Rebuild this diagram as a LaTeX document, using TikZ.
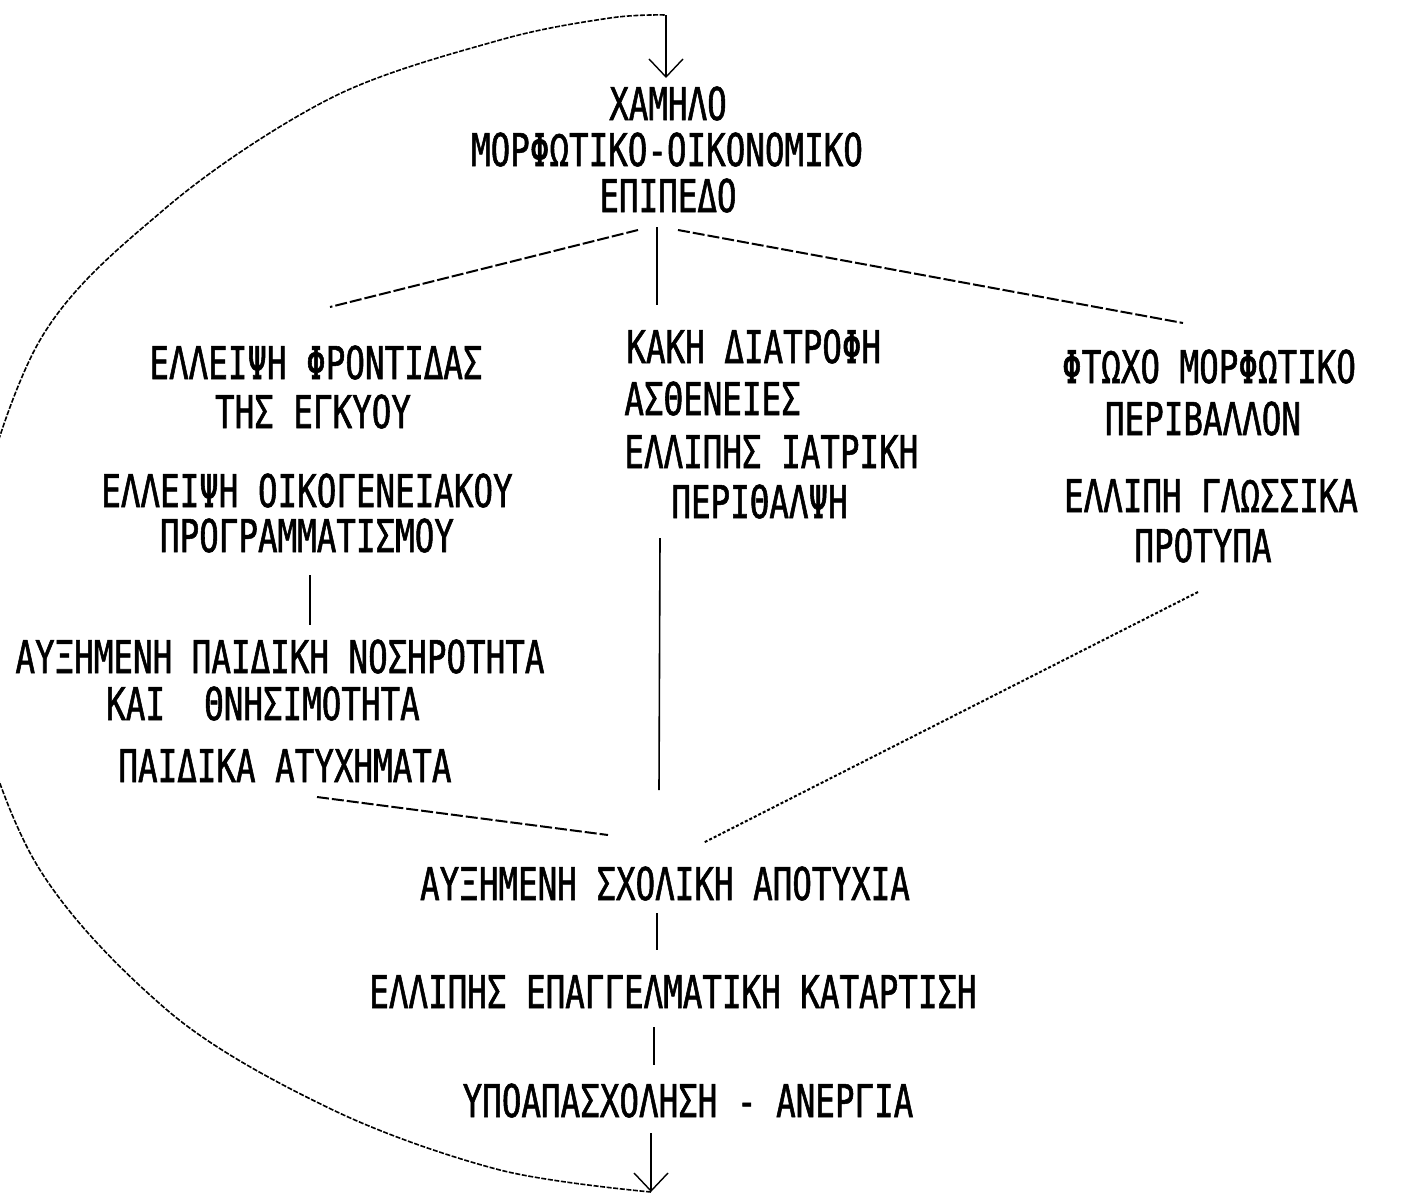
\documentclass[tikz,border=0pt]{standalone}
\usepackage{fontspec}
\newfontfamily\dotfont[FakeStretch=0.72,FakeBold=1.2]{DejaVu Sans Mono}
\usetikzlibrary{arrows.meta}
\begin{document}
\begin{tikzpicture}[x=0.5pt,y=-0.5pt,
  lbl/.style={inner sep=0pt, font=\dotfont\fontsize{22.6}{27}\selectfont, anchor=base},
  lbll/.style={lbl, anchor=base west},
  solidline/.style={line width=0.8pt},
  dashline/.style={line width=1pt, dash pattern=on 6pt off 1.5pt},
  dotline/.style={line width=1pt, dash pattern=on 1.5pt off 1pt},
  arcline/.style={line width=0.8pt, dash pattern=on 2.5pt off 0.8pt},
  tipline/.style={solidline, -{Straight Barb[length=9pt,width=17pt,line width=0.7pt]}}
]
\useasboundingbox (0,0) rectangle (1403,1194);

% top node
\node[lbl] (top1) at (668,120) {ΧΑΜΗΛΟ};
\node[lbl] (top2) at (667,166) {ΜΟΡΦΩΤΙΚΟ-ΟΙΚΟΝΟΜΙΚΟ};
\node[lbl] (top3) at (668,212) {ΕΠΙΠΕΔΟ};

% left column
\node[lbl] (l1a) at (316,379) {ΕΛΛΕΙΨΗ ΦΡΟΝΤΙΔΑΣ};
\node[lbl] (l1b) at (313,428) {ΤΗΣ ΕΓΚΥΟΥ};
\node[lbl] (l2a) at (307,507) {ΕΛΛΕΙΨΗ ΟΙΚΟΓΕΝΕΙΑΚΟΥ};
\node[lbl] (l2b) at (307,552) {ΠΡΟΓΡΑΜΜΑΤΙΣΜΟΥ};
\node[lbl] (l3a) at (280,673) {ΑΥΞΗΜΕΝΗ ΠΑΙΔΙΚΗ ΝΟΣΗΡΟΤΗΤΑ};
\node[lbl] (l3b) at (263,720) {ΚΑΙ\ \ ΘΝΗΣΙΜΟΤΗΤΑ};
\node[lbl] (l4) at (285,782) {ΠΑΙΔΙΚΑ ΑΤΥΧΗΜΑΤΑ};

% middle column
\node[lbll] (m1) at (626,363) {ΚΑΚΗ ΔΙΑΤΡΟΦΗ};
\node[lbll] (m2) at (624,415) {ΑΣΘΕΝΕΙΕΣ};
\node[lbll] (m3) at (624,468) {ΕΛΛΙΠΗΣ ΙΑΤΡΙΚΗ};
\node[lbll] (m4) at (671,518) {ΠΕΡΙΘΑΛΨΗ};

% right column
\node[lbl] (r1a) at (1209,383) {ΦΤΩΧΟ ΜΟΡΦΩΤΙΚΟ};
\node[lbl] (r1b) at (1203,435) {ΠΕΡΙΒΑΛΛΟΝ};
\node[lbl] (r2a) at (1211,512) {ΕΛΛΙΠΗ ΓΛΩΣΣΙΚΑ};
\node[lbl] (r2b) at (1203,562) {ΠΡΟΤΥΠΑ};

% bottom chain
\node[lbl] (b1) at (665,900) {ΑΥΞΗΜΕΝΗ ΣΧΟΛΙΚΗ ΑΠΟΤΥΧΙΑ};
\node[lbl] (b2) at (673,1008) {ΕΛΛΙΠΗΣ ΕΠΑΓΓΕΛΜΑΤΙΚΗ ΚΑΤΑΡΤΙΣΗ};
\node[lbl] (b3) at (688,1117) {ΥΠΟΑΠΑΣΧΟΛΗΣΗ - ΑΝΕΡΓΙΑ};

% connector end points
\coordinate (corner) at (666,15);
\coordinate (toptip) at (666,78);
\coordinate (brL0) at (638,230);
\coordinate (brL1) at (330,307);
\coordinate (brC0) at (657,227);
\coordinate (brC1) at (657,305);
\coordinate (brR0) at (678,230);
\coordinate (brR1) at (1183,323);
\coordinate (vl0) at (310,575);
\coordinate (vl1) at (310,625);
\coordinate (vc0) at (660,538);
\coordinate (vc1) at (659,790);
\coordinate (dl0) at (317,797);
\coordinate (dl1) at (608,835);
\coordinate (dr0) at (1198,592);
\coordinate (dr1) at (703,843);
\coordinate (s10) at (657,913);
\coordinate (s11) at (657,950);
\coordinate (s20) at (654,1027);
\coordinate (s21) at (654,1065);
\coordinate (s30) at (651,1133);
\coordinate (bottip) at (651,1192);

% connectors
\draw[tipline] (corner) -- (toptip);
\draw[dashline] (brL0) -- (brL1);
\draw[solidline] (brC0) -- (brC1);
\draw[dashline] (brR0) -- (brR1);
\draw[solidline] (vl0) -- (vl1);
\draw[solidline] (vc0) -- (vc1);
\draw[dashline] (dl0) -- (dl1);
\draw[dotline] (dr0) -- (dr1);
\draw[solidline] (s10) -- (s11);
\draw[solidline] (s20) -- (s21);
\draw[tipline] (s30) -- (bottip);

% feedback loop
\draw[arcline] plot[smooth, tension=0.55] coordinates {
  (651,1192) (500,1170) (333,1110) (167,1010) (27,847) (-35,610)
  (33,353) (167,207) (333,97) (500,40) (610,18) (666,15)};
\end{tikzpicture}
\end{document}
